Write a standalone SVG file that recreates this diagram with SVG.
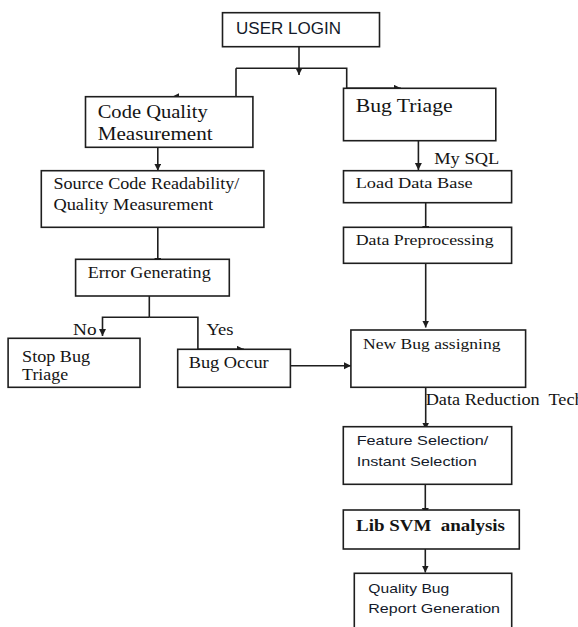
<svg xmlns="http://www.w3.org/2000/svg" width="578" height="627" viewBox="0 0 578 627">
<style>
.box{fill:#fff;stroke:#1e1e1e;stroke-width:1.6}
.ln{fill:none;stroke:#1e1e1e;stroke-width:1.6;marker-end:url(#ah)}
.pl{fill:none;stroke:#1e1e1e;stroke-width:1.6}
.sf{font-family:"Liberation Serif","Times New Roman",serif;fill:#141414}
.ss{font-family:"Liberation Sans",Arial,sans-serif;fill:#141a2a}
</style>
<defs>
<marker id="ah" markerUnits="userSpaceOnUse" markerWidth="8" markerHeight="8" refX="7" refY="3.5" orient="auto">
<path d="M0,0 L7,3.5 L0,7 z" fill="#1e1e1e"/>
</marker>
</defs>
<rect width="578" height="627" fill="#fff"/>
<g id="connectors">
<path class="ln" d="M299,46.7 V75"/>
<path class="ln" d="M236,68.3 V96.7 H172"/>
<path class="ln" d="M236,68.3 H346.7 V88.3 H401"/>
<path class="ln" d="M157.8,147.3 V170.7"/>
<path class="ln" d="M418.4,140.7 V170"/>
<path class="ln" d="M425.7,202.7 V233"/>
<path class="ln" d="M157.8,227.3 V265"/>
<path class="pl" d="M149.3,296 V317.3"/>
<path class="ln" d="M149.3,317.3 H102.5 V336"/>
<path class="ln" d="M149.3,317.3 H197.9 V349.3 H244"/>
<path class="ln" d="M290.4,365.7 H351"/>
<path class="ln" d="M425.7,263.3 V327.5"/>
<path class="ln" d="M425.7,387.3 V429.5"/>
<path class="ln" d="M425.3,484.3 V515"/>
<path class="ln" d="M425.3,549 V572.5"/>
</g>
<g id="user-login">
<rect class="box" x="222.5" y="12.7" width="157" height="34"/>
<text class="ss" x="236" y="33.5" font-size="16" textLength="105" lengthAdjust="spacingAndGlyphs">USER LOGIN</text>
</g>
<g id="code-quality">
<rect class="box" x="85.5" y="96.7" width="167.4" height="50.6"/>
<text class="sf" x="97.7" y="118.3" font-size="19" textLength="110" lengthAdjust="spacingAndGlyphs">Code Quality</text>
<text class="sf" x="97.7" y="140" font-size="19" textLength="115" lengthAdjust="spacingAndGlyphs">Measurement</text>
</g>
<g id="bug-triage">
<rect class="box" x="343.5" y="88.3" width="152.3" height="52.4"/>
<text class="sf" x="355.7" y="111.7" font-size="19" textLength="97" lengthAdjust="spacingAndGlyphs">Bug Triage</text>
</g>
<text class="sf" x="434.2" y="164" font-size="16.5" textLength="65" lengthAdjust="spacingAndGlyphs">My SQL</text>
<g id="source-code">
<rect class="box" x="41.3" y="170.7" width="222.6" height="56.6"/>
<text class="sf" x="53.4" y="189.3" font-size="16.5" textLength="186" lengthAdjust="spacingAndGlyphs">Source Code Readability/</text>
<text class="sf" x="53.4" y="210" font-size="16.5" textLength="159.6" lengthAdjust="spacingAndGlyphs">Quality Measurement</text>
</g>
<g id="load-data-base">
<rect class="box" x="343.5" y="170.7" width="168.1" height="32"/>
<text class="sf" x="355.7" y="188.3" font-size="15.5" textLength="117" lengthAdjust="spacingAndGlyphs">Load Data Base</text>
</g>
<g id="data-preprocessing">
<rect class="box" x="343.5" y="227.3" width="168.1" height="36"/>
<text class="sf" x="355.7" y="245" font-size="15.5" textLength="138" lengthAdjust="spacingAndGlyphs">Data Preprocessing</text>
</g>
<g id="error-generating">
<rect class="box" x="75.6" y="259.3" width="153.7" height="36.7"/>
<text class="sf" x="87.7" y="278.3" font-size="16.5" textLength="123" lengthAdjust="spacingAndGlyphs">Error Generating</text>
</g>
<text class="sf" x="73" y="335" font-size="16.5" textLength="23.6" lengthAdjust="spacingAndGlyphs">No</text>
<text class="sf" x="206.4" y="335" font-size="16.5" textLength="27" lengthAdjust="spacingAndGlyphs">Yes</text>
<g id="stop-bug-triage">
<rect class="box" x="8.1" y="338.3" width="131.9" height="49"/>
<text class="sf" x="22.1" y="361.7" font-size="16.5" textLength="68" lengthAdjust="spacingAndGlyphs">Stop Bug</text>
<text class="sf" x="22.1" y="380" font-size="16.5" textLength="46" lengthAdjust="spacingAndGlyphs">Triage</text>
</g>
<g id="bug-occur">
<rect class="box" x="177.7" y="349.3" width="112.7" height="38"/>
<text class="sf" x="188.7" y="368.3" font-size="16.5" textLength="80" lengthAdjust="spacingAndGlyphs">Bug Occur</text>
</g>
<g id="new-bug-assigning">
<rect class="box" x="350.9" y="330" width="174.7" height="57.3"/>
<text class="sf" x="363" y="349.3" font-size="15.5" textLength="137.5" lengthAdjust="spacingAndGlyphs">New Bug assigning</text>
</g>
<text class="sf" x="425.7" y="405" font-size="17" xml:space="preserve" textLength="158" lengthAdjust="spacingAndGlyphs">Data Reduction  Tech</text>
<g id="feature-selection">
<rect class="box" x="343.3" y="426.7" width="168.4" height="57.6"/>
<text class="ss" x="356.7" y="445" font-size="13" textLength="131.7" lengthAdjust="spacingAndGlyphs">Feature Selection/</text>
<text class="ss" x="356.7" y="465.5" font-size="13" textLength="120" lengthAdjust="spacingAndGlyphs">Instant Selection</text>
</g>
<g id="lib-svm">
<rect class="box" x="343.3" y="510" width="176" height="39"/>
<text class="sf" x="356" y="531" font-size="16.5" font-weight="bold" xml:space="preserve" textLength="149" lengthAdjust="spacingAndGlyphs">Lib SVM  analysis</text>
</g>
<g id="quality-bug-report">
<rect class="box" x="354.3" y="573.3" width="157.4" height="60"/>
<text class="ss" x="368.3" y="593.3" font-size="13" textLength="81" lengthAdjust="spacingAndGlyphs">Quality Bug</text>
<text class="ss" x="368.3" y="613.3" font-size="13" textLength="131.7" lengthAdjust="spacingAndGlyphs">Report Generation</text>
</g>
</svg>
